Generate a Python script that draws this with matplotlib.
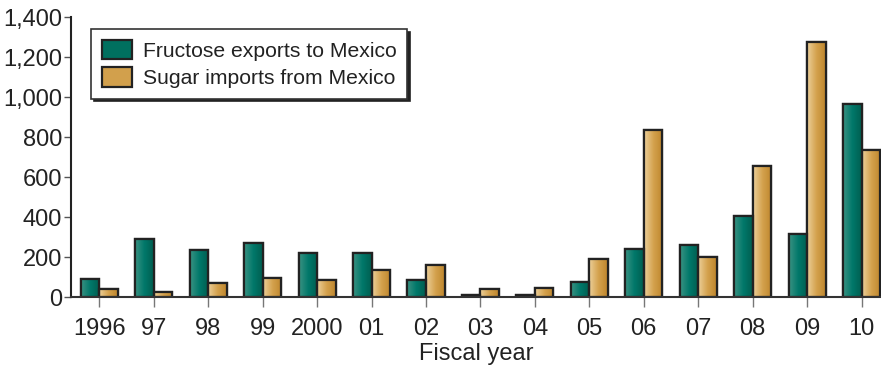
import numpy as np
import matplotlib
matplotlib.use("Agg")
import matplotlib.pyplot as plt
from matplotlib.colors import LinearSegmentedColormap
from matplotlib.ticker import FuncFormatter

years = ["1996", "97", "98", "99", "2000", "01", "02", "03", "04", "05",
         "06", "07", "08", "09", "10"]
fructose = [93, 290, 236, 270, 221, 221, 88, 12, 12, 76, 242, 261, 409, 316, 967]
sugar = [40, 25, 70, 98, 85, 136, 163, 44, 49, 192, 838, 201, 659, 1279, 735]
series_names = ["Fructose exports to Mexico", "Sugar imports from Mexico"]
yticks = [0, 200, 400, 600, 800, 1000, 1200, 1400]

plt.rcParams['font.family'] = ['Liberation Sans', 'DejaVu Sans']

teal_cmap = LinearSegmentedColormap.from_list("teal", ["#3a9282", "#00786a", "#005e50"])
gold_cmap = LinearSegmentedColormap.from_list("gold", ["#ecd09a", "#d4a24e", "#be862c"])
teal_solid = "#00705f"
gold_solid = "#d2a04c"

fig = plt.figure(figsize=(8.81, 3.69), dpi=100)
ax = fig.add_axes([0.0806, 0.194, 0.919, 0.759])

x = np.arange(len(years))
w = 0.34
edge = "#222222"
b1 = ax.bar(x - w / 2, fructose, w, color=teal_solid, edgecolor=edge, linewidth=1.6,
            label=series_names[0], zorder=2)
b2 = ax.bar(x + w / 2, sugar, w, color=gold_solid, edgecolor=edge, linewidth=1.6,
            label=series_names[1], zorder=2)

grad = np.linspace(0, 1, 64).reshape(1, -1)
for bars, cmap in ((b1, teal_cmap), (b2, gold_cmap)):
    for r in bars:
        x0, y0 = r.get_x(), r.get_y()
        ww, hh = r.get_width(), r.get_height()
        im = ax.imshow(grad, cmap=cmap, aspect='auto',
                       extent=[x0, x0 + ww, y0, y0 + hh], zorder=2.5,
                       interpolation='bilinear')
        im.set_clip_path(r)
        r2 = plt.Rectangle((x0, y0), ww, hh, fill=False, edgecolor=edge,
                           linewidth=1.6, zorder=3)
        ax.add_patch(r2)

ax.set_xlim(-0.52, 14.35)
ax.set_ylim(0, 1400)
ax.set_yticks(yticks)
ax.yaxis.set_major_formatter(FuncFormatter(lambda v, p: f"{int(v):,}"))
ax.set_xticks(x)
ax.set_xticklabels(years)
ax.tick_params(axis='both', labelsize=17, colors='#222222')
ax.tick_params(axis='y', direction='out', length=5, width=1, color='#555555', pad=1.5)
ax.tick_params(axis='x', direction='out', length=7, width=1, color='#777777', pad=8)

for s in ('top', 'right'):
    ax.spines[s].set_visible(False)
ax.spines['left'].set_color('#222222')
ax.spines['left'].set_linewidth(1.5)
ax.spines['bottom'].set_color('#333333')
ax.spines['bottom'].set_linewidth(1.5)
ax.spines['bottom'].set_zorder(4)

ax.set_xlabel("Fiscal year", fontsize=17, color='#222222', labelpad=2)

leg = ax.legend(loc='upper left', bbox_to_anchor=(0.0247, 0.958), borderaxespad=0,
                fontsize=15.2, frameon=True, fancybox=False,
                shadow={'color': '#222222', 'alpha': 1.0},
                handlelength=1.45, handleheight=1.05, handletextpad=0.5,
                labelspacing=0.3, borderpad=0.5)
leg.get_frame().set_edgecolor('#333333')
leg.get_frame().set_linewidth(1.2)
leg.legend_handles[0].set_facecolor(teal_solid)
leg.legend_handles[1].set_facecolor(gold_solid)
for t in leg.get_texts():
    t.set_color('#222222')

fig.savefig("out.png", dpi=100)
